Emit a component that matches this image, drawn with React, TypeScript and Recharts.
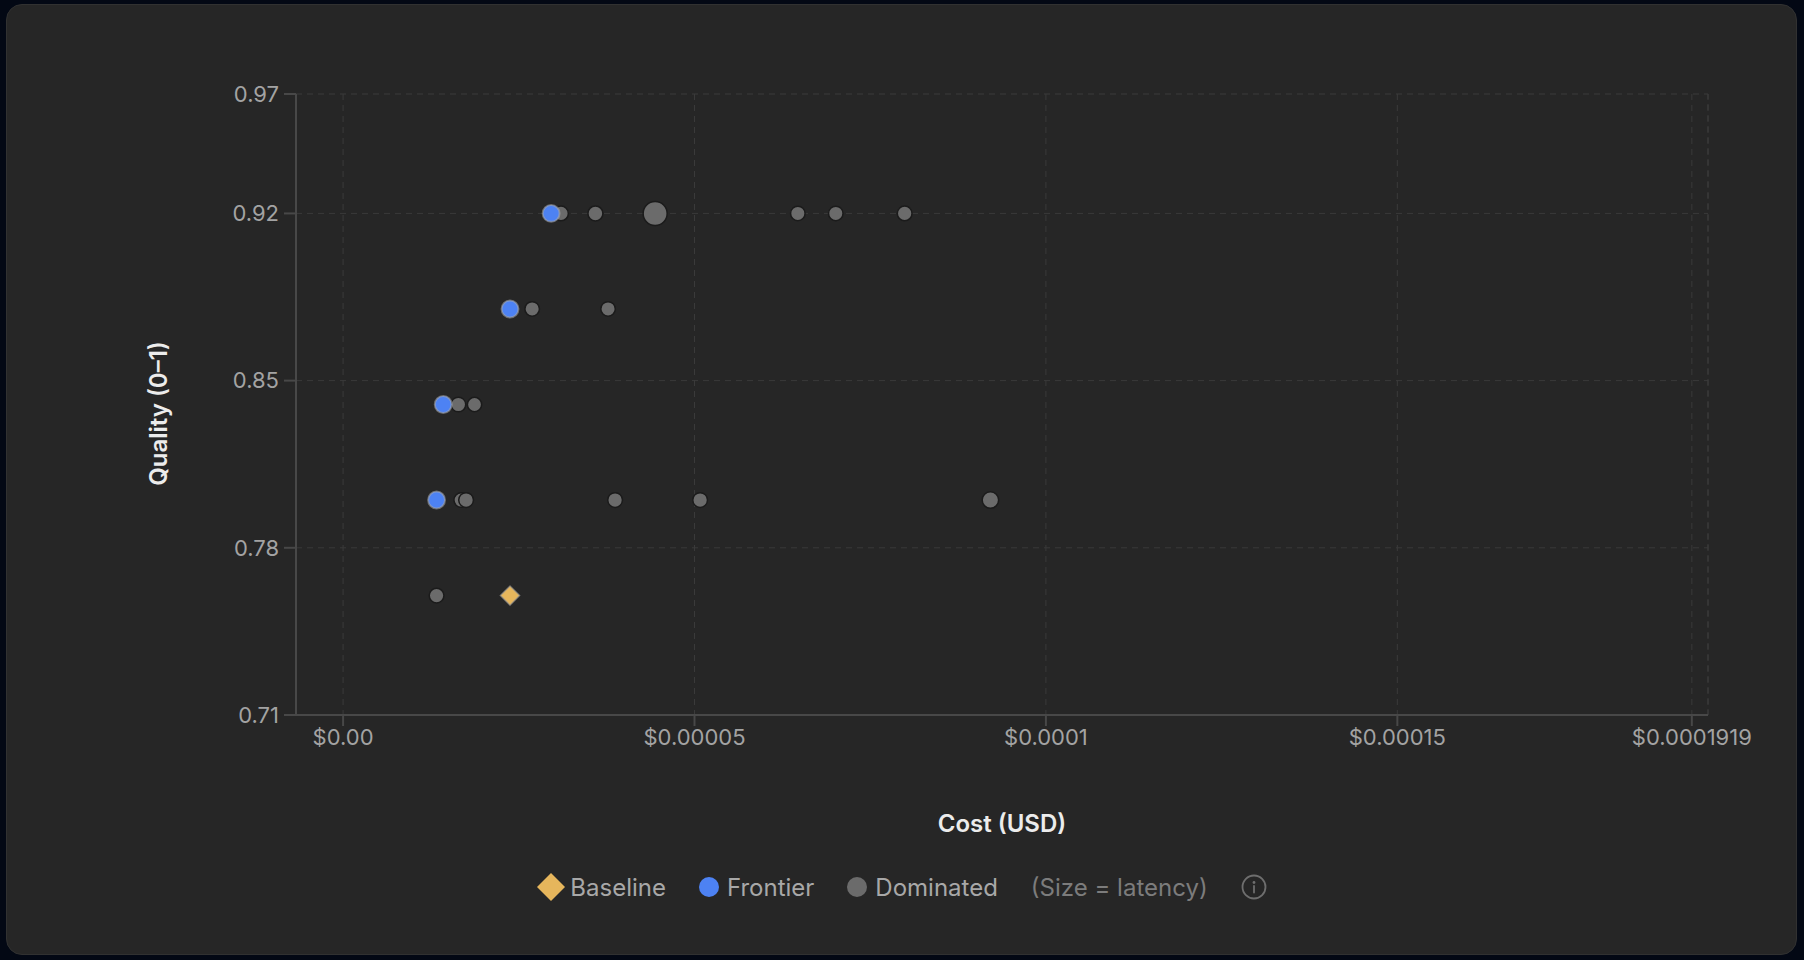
import { ScatterChart, Scatter, XAxis, YAxis, ZAxis, CartesianGrid, ReferenceLine } from 'recharts';

const FONT = "Inter, 'Noto Sans', sans-serif";

const TICK_COLOR = '#a3a3a3';
const GRID_COLOR = '#3a3a3a';
const AXIS_COLOR = '#484848';
const BLUE = '#4d82f3';
const GRAY = '#6b6b6b';
const GOLD = '#e6b65c';

// cost is USD per run, quality 0–1, latency in ms (drives the marker size)
const baselineCost = [23.75e-6];
const baselineQuality = [0.76];
const baselineLatency = [1730];

const frontierCost = [13.3e-6, 14.25e-6, 23.75e-6, 29.6e-6];
const frontierQuality = [0.80, 0.84, 0.88, 0.92];
const frontierLatency = [2100, 2100, 2100, 2100];

const dominatedCost = [
  31.0e-6, 35.9e-6, 44.4e-6, 64.7e-6, 70.1e-6, 79.9e-6,
  26.9e-6, 37.7e-6,
  16.4e-6, 18.7e-6,
  16.8e-6, 17.5e-6, 38.7e-6, 50.8e-6, 92.1e-6,
  13.3e-6,
];
const dominatedQuality = [
  0.92, 0.92, 0.92, 0.92, 0.92, 0.92,
  0.88, 0.88,
  0.84, 0.84,
  0.80, 0.80, 0.80, 0.80, 0.80,
  0.76,
];
const dominatedLatency = [
  1600, 1650, 4250, 1550, 1550, 1600,
  1550, 1550,
  1600, 1500,
  1550, 1600, 1600, 1600, 2000,
  1600,
];

const costTicks = [0, 0.00005, 0.0001, 0.00015, 0.0001919];
const costDomain = [-0.0000067, 0.0001942];
const qualityTicks = [0.71, 0.78, 0.85, 0.92, 0.97];
const qualityDomain = [0.71, 0.97];

const zip = (cost: number[], quality: number[], latency: number[]) =>
  cost.map((c, i) => ({ cost: c, quality: quality[i], latency: latency[i] }));

const baseline = zip(baselineCost, baselineQuality, baselineLatency);
const frontier = zip(frontierCost, frontierQuality, frontierLatency);
const dominated = zip(dominatedCost, dominatedQuality, dominatedLatency);

const formatCost = (v: number) => (v === 0 ? '$0.00' : `$${v}`);

const Diamond = (props: any) => {
  const { cx, cy, size } = props;
  const r = Math.sqrt((size || 180) / 2);
  return (
    <path
      d={`M${cx},${cy - r}L${cx + r},${cy}L${cx},${cy + r}L${cx - r},${cy}Z`}
      fill={GOLD}
      stroke="rgba(150,150,150,0.6)"
      strokeWidth={1.5}
    />
  );
};

const YTitle = (props: any) => {
  const { viewBox } = props;
  const x = viewBox.x + 47;
  const y = viewBox.y + viewBox.height / 2 + 9;
  return (
    <text
      x={x}
      y={y}
      transform={`rotate(-90, ${x}, ${y})`}
      textAnchor="middle"
      fill="#ececec"
      fontSize={24}
      fontWeight={600}
      fontFamily={FONT}
    >
      Quality (0–1)
    </text>
  );
};

const XTitle = (props: any) => {
  const { viewBox } = props;
  return (
    <text
      x={viewBox.x + viewBox.width / 2}
      y={viewBox.y + 117}
      textAnchor="middle"
      fill="#ececec"
      fontSize={24}
      fontWeight={600}
      fontFamily={FONT}
    >
      Cost (USD)
    </text>
  );
};

const legendText = { color: '#a8a8a8', fontSize: 24, fontFamily: FONT };

const ChartLegend = () => (
  <div
    style={{
      position: 'absolute',
      left: 0,
      width: 1804,
      top: 870,
      height: 34,
      display: 'flex',
      justifyContent: 'center',
      alignItems: 'center',
      gap: 33,
    }}
  >
    <div style={{ display: 'flex', alignItems: 'center', gap: 5 }}>
      <svg width={28} height={28}>
        <path d="M14,0L28,14L14,28L0,14Z" fill={GOLD} />
      </svg>
      <span style={legendText}>Baseline</span>
    </div>
    <div style={{ display: 'flex', alignItems: 'center', gap: 8 }}>
      <svg width={20} height={20}>
        <circle cx={10} cy={10} r={10} fill={BLUE} />
      </svg>
      <span style={legendText}>Frontier</span>
    </div>
    <div style={{ display: 'flex', alignItems: 'center', gap: 8 }}>
      <svg width={20} height={20}>
        <circle cx={10} cy={10} r={10} fill={GRAY} />
      </svg>
      <span style={legendText}>Dominated</span>
    </div>
    <span style={{ ...legendText, color: '#7c7c7c' }}>(Size = latency)</span>
    <svg width={26} height={26}>
      <circle cx={13} cy={13} r={11.5} fill="none" stroke="#6e6e6e" strokeWidth={1.8} />
      <circle cx={13} cy={8.5} r={1.4} fill="#6e6e6e" />
      <line x1={13} y1={12} x2={13} y2={18.5} stroke="#6e6e6e" strokeWidth={1.8} strokeLinecap="round" />
    </svg>
  </div>
);

const App = () => (
  <div style={{ position: 'fixed', left: 0, top: 0, width: 1804, height: 960, background: '#030814', fontFamily: FONT }}>
    <div
      style={{
        position: 'absolute',
        left: 6,
        top: 4,
        width: 1789,
        height: 949,
        borderRadius: 16,
        background: '#262626',
        border: '1px solid #313131',
      }}
    />
    <div style={{ position: 'absolute', left: 0, top: 0 }}>
      <ScatterChart width={1804} height={960} margin={{ top: 94, right: 96, bottom: 115, left: 120 }}>
        <CartesianGrid stroke={GRID_COLOR} strokeDasharray="6 5" />
        <ReferenceLine x={costDomain[1]} stroke={GRID_COLOR} strokeDasharray="6 5" />
        <XAxis
          type="number"
          dataKey="cost"
          domain={costDomain}
          ticks={costTicks}
          interval={0}
          allowDataOverflow
          tickFormatter={formatCost}
          tick={{ fill: TICK_COLOR, fontSize: 22, fontFamily: FONT }}
          axisLine={{ stroke: AXIS_COLOR, strokeWidth: 2 }}
          tickLine={{ stroke: AXIS_COLOR, strokeWidth: 2 }}
          tickSize={11}
          tickMargin={3}
          height={130}
          label={<XTitle />}
        />
        <YAxis
          type="number"
          dataKey="quality"
          domain={qualityDomain}
          ticks={qualityTicks}
          interval={0}
          allowDataOverflow
          tickFormatter={(v: number) => v.toFixed(2)}
          tick={{ fill: TICK_COLOR, fontSize: 22, fontFamily: FONT }}
          axisLine={{ stroke: AXIS_COLOR, strokeWidth: 2 }}
          tickLine={{ stroke: AXIS_COLOR, strokeWidth: 2 }}
          tickSize={12}
          tickMargin={5}
          width={176}
          label={<YTitle />}
        />
        <ZAxis type="number" dataKey="latency" domain={[0, 4500]} range={[0, 480]} />
        <Scatter
          name="Dominated"
          data={dominated}
          fill={GRAY}
          stroke="#1b1b1b"
          strokeWidth={1.5}
          isAnimationActive={false}
        />
        <Scatter
          name="Frontier"
          data={frontier}
          fill={BLUE}
          stroke="rgba(170,170,170,0.55)"
          strokeWidth={2}
          isAnimationActive={false}
        />
        <Scatter name="Baseline" data={baseline} shape={<Diamond />} isAnimationActive={false} />
      </ScatterChart>
    </div>
    <ChartLegend />
  </div>
);

export default App;
